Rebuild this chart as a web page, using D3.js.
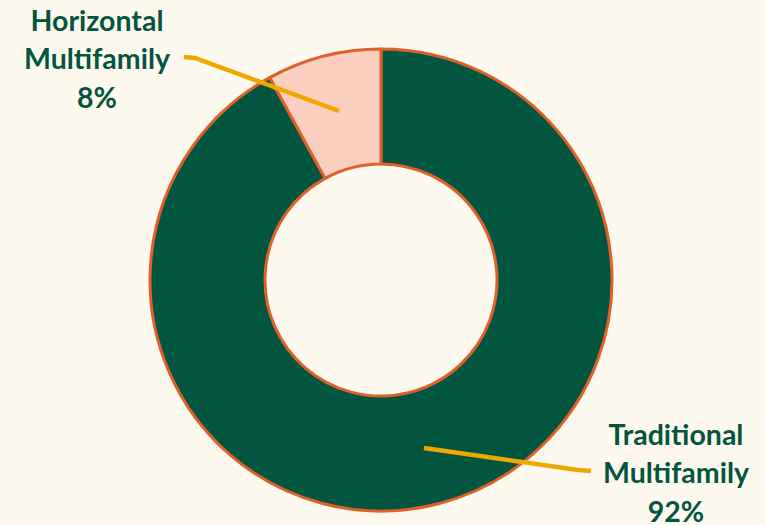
<!DOCTYPE html>
<html>
<head>
<meta charset="utf-8">
<script src="https://cdn.jsdelivr.net/npm/d3@7"></script>
<style>
  html, body { margin: 0; padding: 0; background: #fef9ef; }
  svg { display: block; }
</style>
</head>
<body>
<svg id="chart" width="765" height="525"></svg>
<script>
// segment data
const categories = ["Traditional Multifamily", "Horizontal Multifamily"];
const shares = [92, 8];
const labelLines = [["Traditional", "Multifamily", "92%"], ["Horizontal", "Multifamily", "8%"]];
const fills = ["#02563f", "#fbcfbf"];

const svg = d3.select('#chart');
const cx = 381, cy = 280, rOut = 231, rIn = 116;

const pie = d3.pie().sort(null).value(d => d.v);
const arc = d3.arc().innerRadius(rIn).outerRadius(rOut);
const rows = categories.map((c, i) => ({name: c, v: shares[i], fill: fills[i], lines: labelLines[i]}));
const arcs = pie(rows);

const g = svg.append('g').attr('transform', `translate(${cx},${cy})`);
g.selectAll('path').data(arcs).enter().append('path')
  .attr('d', arc)
  .attr('fill', d => d.data.fill)
  .attr('stroke', '#e0602a')
  .attr('stroke-width', 3)
  .attr('stroke-linejoin', 'round');

// leader lines + labels (placed like the original)
const labelPos = [
  {tx: 676, ty: 435, pts: [[424 - cx, 448 - cy], [578 - cx, 470 - cy], [591 - cx, 471 - cy]]},
  {tx: 97, ty: 21, pts: [[339 - cx, 111 - cy], [195 - cx, 58 - cy], [184 - cx, 57 - cy]]}
];

g.selectAll('polyline.lead').data(arcs).enter().append('polyline')
  .attr('class', 'lead')
  .attr('points', (d, i) => labelPos[i].pts.map(p => p.join(',')).join(' '))
  .attr('fill', 'none')
  .attr('stroke', '#f0a800')
  .attr('stroke-width', 4.5);

const lab = svg.selectAll('text.lab').data(arcs).enter().append('text')
  .attr('class', 'lab')
  .attr('text-anchor', 'middle')
  .attr('fill', '#03553f')
  .style('font-family', 'Lato, "Open Sans", sans-serif')
  .style('font-weight', 'bold')
  .style('font-size', '28.5px');

lab.each(function(d, i){
  const t = d3.select(this);
  d.data.lines.forEach((ln, k) => {
    t.append('tspan')
      .attr('x', labelPos[i].tx)
      .attr('y', labelPos[i].ty + k * 38.5)
      .attr('dy', '0.35em')
      .text(ln);
  });
});
</script>
</body>
</html>
